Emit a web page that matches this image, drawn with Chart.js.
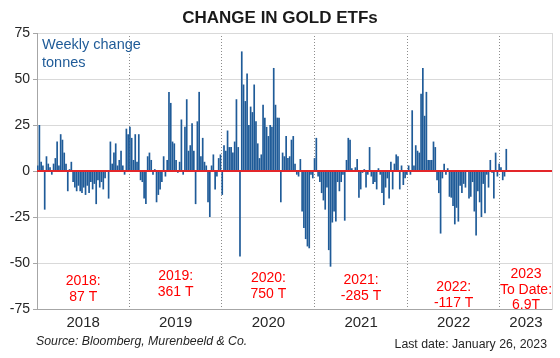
<!DOCTYPE html>
<html><head><meta charset="utf-8">
<script src="https://cdn.jsdelivr.net/npm/chart.js@4.4.0/dist/chart.umd.min.js"></script>
<style>html,body{margin:0;padding:0;background:#fff}canvas{display:block}</style>
</head><body>
<canvas id="c" width="560" height="358"></canvas>
<script>
// ---------- data ----------
const chartTitle = 'CHANGE IN GOLD ETFs';
const unitLines = ['Weekly change', 'tonnes'];
const yearLabels = ['2018', '2019', '2020', '2021', '2022', '2023'];
const yearStartDates = ['2018-01-01', '2019-01-01', '2020-01-01', '2021-01-01', '2022-01-01', '2023-01-01'];
const firstWeekDate = '2018-01-04';
const yearTotals = [['2018:', '87 T'], ['2019:', '361 T'], ['2020:', '750 T'], ['2021:', '-285 T'], ['2022:', '-117 T'], ['2023', 'To Date:', '6.9T']];
const sourceText = 'Source: Bloomberg, Murenbeeld & Co.';
const lastDateText = 'Last date: January 26, 2023';
const yTickValues = [-75, -50, -25, 0, 25, 50, 75];

const w2018 = [3, 25, 5, 3, -21, 8, 4, 2, -2, 4, 7, 16, 3, 20, 17, 10, 4, -11, 1, 5, -6, -9, -11, -8, -11, -12, -9, -13, -8, -12, -6, -10, -7, -18, -5, -9, -6, -10, -4, 0.5, -15, 16, 4, 10, 15, 3, 6, 11, 3, -2, 23, 20];
const w2019 = [24, 18, 6, 20, 5, 20, -5, -6, -15, -18, 8, 10, 6, -2, 1, -17, -13, -10, -6, 8, -3, 6, 43, 37, 16, 15, 6, -1, 5, 28, -2, 24, 39, 11, 14, 26, 11, -18, 27, 43, 8, 18, 5, 3, -17, -25, 3, 9, -10, -3, 7, 9];
const w2020 = [-13, 14, 11, 22, 13, 13, 10, 16, 39, 13, -46.5, 65, 47, 38, 53, 25, 35, 32, 47, 27, 15, 7, 9, 36, 29, 24, 19, 25, 24, 56, 36, 29, 29, -17, 10, 8, 19, 7, 8, 17, 19, 4, -2, -3, 6.5, -22, -31, -37, -41, -42, -2, -4, 7];
const w2021 = [18, -3, -6, -12, -16, -21, -9, -43, -52, -28, -22, -27.5, -6, -11, -6, -2, -27, 6, 18, 17, 1.5, 0.5, 2, 6.5, -14.5, -10, -1, 1, -9, -2, 13, -3, -7, -6, -10, 1.5, -2, -12, -18.5, -9, -4, -15, 5, -10, 4, 9, 8, -10, 3, -7.6, -4, -2];
const w2022 = [3, -2, 33, 3, 14, 11, 10, 42, 56, 30, 43, 6, 6, 6, 16, 13, -5, -12, -34, -4, 4, -2, 1.5, -14, -14.5, -19, -29, -20, -27.5, -8, -12, -7, -9, -0.5, -15, -14, -6, -22, -35, -11, -17, -25, -7, -23, -2, -9, 6, -1, -15, 10, -3, 4];
const w2023 = [2, -5, -3, 12];

// ---------- layout / style ----------
const BLUE = '#1f5b98';
const RED_LINE = '#e3262a';
const RED_TEXT = '#ff0000';
const FONT = '"Liberation Sans", Arial, sans-serif';
const X_MIN = -0.34, X_MAX = 289.75;           // axis range in weeks since first week
const labelTopValue = [-59.6, -57.4, -58.3, -59.2, -63.0, -56.3];   // y (data units) of first line of each total label
const LABEL_LINE_GAP = [16, 16, 16, 16, 16, 15.5];

Chart.defaults.font.family = FONT;

const DAY = 864e5;
const weekIndex = d => (Date.parse(d) - Date.parse(firstWeekDate)) / (7 * DAY);
const yearBounds = yearStartDates.map(weekIndex);
const allValues = [].concat(w2018, w2019, w2020, w2021, w2022, w2023);
const points = allValues.map((v, i) => ({ x: i, y: v }));

function segMid(i) {
  const lo = Math.max(X_MIN, yearBounds[i]);
  const hi = i + 1 < yearBounds.length ? yearBounds[i + 1] : X_MAX;
  return (lo + hi) / 2;
}

const overlay = {
  id: 'overlay',
  afterDatasetsDraw(chart) {
    const { ctx, chartArea: a, scales: { y } } = chart;
    const y0 = y.getPixelForValue(0);
    ctx.save();
    ctx.strokeStyle = RED_LINE; ctx.lineWidth = 2;
    ctx.beginPath(); ctx.moveTo(a.left, y0); ctx.lineTo(a.right, y0); ctx.stroke();
    ctx.restore();
  },
  afterDraw(chart) {
    const { ctx, chartArea: a, scales: { x, y } } = chart;
    ctx.save();
    ctx.textBaseline = 'middle';
    ctx.fillStyle = BLUE; ctx.font = '14.5px ' + FONT; ctx.textAlign = 'left';
    unitLines.forEach((t, i) => ctx.fillText(t, a.left + 5, a.top + 12 + i * 18));
    ctx.fillStyle = RED_TEXT; ctx.font = '14px ' + FONT; ctx.textAlign = 'center';
    yearTotals.forEach((lines, i) => {
      const cx = x.getPixelForValue(segMid(i));
      const top = y.getPixelForValue(labelTopValue[i]);
      lines.forEach((t, j) => ctx.fillText(t, cx, top + j * LABEL_LINE_GAP[i]));
    });
    ctx.fillStyle = '#262626';
    ctx.font = 'italic 12.3px ' + FONT; ctx.textAlign = 'left';
    ctx.fillText(sourceText, 36, 342);
    ctx.font = '12.3px ' + FONT; ctx.textAlign = 'right';
    ctx.fillText(lastDateText, 547, 345);
    ctx.restore();
  }
};

new Chart(document.getElementById('c'), {
  type: 'bar',
  data: {
    datasets: [{
      data: points,
      backgroundColor: BLUE,
      barPercentage: 0.95,
      categoryPercentage: 1,
      xAxisID: 'x', yAxisID: 'y'
    }]
  },
  options: {
    responsive: false,
    animation: false,
    layout: { padding: 0 },
    plugins: {
      legend: { display: false },
      tooltip: { enabled: false },
      title: {
        display: true, text: chartTitle, color: '#1a1a1a',
        font: { size: 17, weight: 'bold', lineHeight: 1.2 },
        padding: { top: 8, bottom: 4.6 }
      }
    },
    scales: {
      x: {
        type: 'linear', position: 'bottom', min: X_MIN, max: X_MAX, offset: false,
        afterBuildTicks: s => { s.ticks = yearBounds.filter(v => v > X_MIN).map(v => ({ value: v })); },
        afterFit: s => { s.height = 0; },
        ticks: { display: false },
        grid: { color: '#8c8c8c', lineWidth: 1, drawTicks: false, offset: false },
        border: { display: false, dash: [1, 2] }
      },
      x2: {
        type: 'linear', position: 'bottom', min: X_MIN, max: X_MAX, offset: false,
        afterBuildTicks: s => { s.ticks = yearLabels.map((_, i) => ({ value: segMid(i) })); },
        afterFit: s => { s.height = 49; },
        ticks: {
          autoSkip: false, maxRotation: 0, padding: 5, color: '#262626',
          font: { size: 15 },
          callback: (v, i) => yearLabels[i]
        },
        grid: { display: false, drawTicks: false, offset: false },
        border: { display: false }
      },
      y: {
        type: 'linear', position: 'left', min: -75, max: 75,
        afterBuildTicks: s => { s.ticks = yTickValues.map(v => ({ value: v })); },
        afterFit: s => { s.width = 37; },
        ticks: { color: '#262626', font: { size: 14 }, padding: 3 },
        grid: {
          color: c => c.tick.value === 0 ? 'rgba(0,0,0,0)' : (c.tick.value === -75 ? '#a6a6a6' : '#d9d9d9'),
          tickColor: '#a6a6a6', tickLength: 4
        },
        border: { display: true, color: '#a6a6a6' }
      },
      yr: {
        type: 'linear', position: 'right', min: -75, max: 75,
        afterFit: s => { s.width = 8; },
        ticks: { display: false },
        grid: { display: false, drawTicks: false },
        border: { display: true, color: '#d9d9d9' }
      }
    }
  },
  plugins: [overlay]
});
</script>
</body></html>
